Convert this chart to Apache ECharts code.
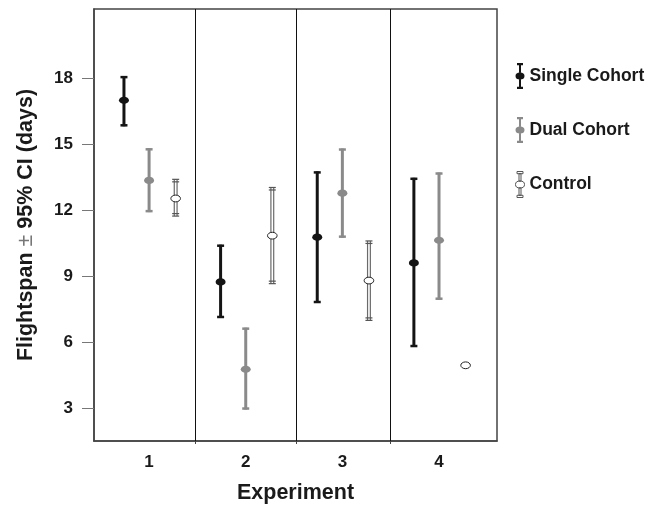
<!DOCTYPE html>
<html>
<head>
<meta charset="utf-8">
<script src="https://cdn.jsdelivr.net/npm/echarts@6/dist/echarts.min.js"></script>
<style>
  html, body { margin: 0; padding: 0; background: #fff; }
  #chart { width: 661px; height: 509px; }
</style>
</head>
<body>
<div id="chart"></div>
<script>
// experiments on the x axis
var experiments = [1, 2, 3, 4];
var yTicks = [3, 6, 9, 12, 15, 18];

// flightspan (days), mean with 95% CI
var singleMean = [16.98, 8.73, 10.76, 9.59];
var singleLow = [15.80, 7.09, 7.77, 5.77];
var singleHigh = [18.08, 10.42, 13.75, 13.46];

var dualMean = [13.34, 4.76, 12.76, 10.62];
var dualLow = [11.90, 2.93, 10.74, 7.92];
var dualHigh = [14.80, 6.65, 14.79, 13.70];

var controlMean = [12.52, 10.83, 8.79, 4.94];
var controlLow = [11.72, 8.65, 6.98, null];
var controlHigh = [13.39, 13.02, 10.59, null];

// where the groups sit around each experiment, and the separators
var offsets = { single: -0.26, dual: 0, control: 0.275 };
var dividerX = [1.48, 2.52, 3.5];

var FONT = '"Liberation Sans", Arial, Helvetica, sans-serif';

function build(mean, low, high, off) {
  return experiments.map(function (e, i) {
    return [e + off, mean[i], low[i] == null ? '-' : low[i], high[i] == null ? '-' : high[i]];
  });
}

function renderer(kind) {
  return function (params, api) {
    var x = api.value(0), m = api.value(1), lo = api.value(2), hi = api.value(3);
    var pm = api.coord([x, m]);
    var kids = [];
    var hasBar = !isNaN(lo) && !isNaN(hi);
    if (hasBar) {
      var pl = api.coord([x, lo]);
      var ph = api.coord([x, hi]);
      var cx = pm[0];
      if (kind === 'control') {
        kids.push({ type: 'line', shape: { x1: cx, y1: ph[1], x2: cx, y2: pl[1] },
          style: { stroke: '#6a6a6a', lineWidth: 4 } });
        kids.push({ type: 'line', shape: { x1: cx, y1: ph[1], x2: cx, y2: pl[1] },
          style: { stroke: '#fff', lineWidth: 1.6 } });
        [ph[1], ph[1] + 2.5, pl[1], pl[1] - 2.5].forEach(function (yy) {
          kids.push({ type: 'line', shape: { x1: cx - 3.5, y1: yy, x2: cx + 3.5, y2: yy },
            style: { stroke: '#555', lineWidth: 1.2 } });
        });
      } else {
        var col = kind === 'single' ? '#141414' : '#8a8a8a';
        kids.push({ type: 'line', shape: { x1: cx, y1: ph[1], x2: cx, y2: pl[1] },
          style: { stroke: col, lineWidth: 3 } });
        [ph[1] + 1, pl[1] - 1].forEach(function (yy) {
          kids.push({ type: 'line', shape: { x1: cx - 3.5, y1: yy, x2: cx + 3.5, y2: yy },
            style: { stroke: col, lineWidth: 2.5 } });
        });
      }
    }
    if (kind === 'control') {
      kids.push({ type: 'ellipse', shape: { cx: pm[0], cy: pm[1], rx: 4.8, ry: 3.4 },
        style: { fill: '#fff', stroke: '#222', lineWidth: 1 } });
    } else {
      kids.push({ type: 'ellipse', shape: { cx: pm[0], cy: pm[1], rx: 5, ry: 3.6 },
        style: { fill: kind === 'single' ? '#141414' : '#8a8a8a' } });
    }
    return { type: 'group', children: kids };
  };
}

// I-beam with a dot; bar split round the dot so nothing overlaps
var legendIcon = 'path://M1.5,0H7.5V2.2H1.5Z M3.5,2.2H5.5V9.6H3.5Z M3.5,16.4H5.5V23.8H3.5Z M1.5,23.8H7.5V26H1.5Z M0,13A4.5,3.5,0,1,1,9,13A4.5,3.5,0,1,1,0,13Z';

var chart = echarts.init(document.getElementById('chart'));
var option = {
  animation: false,
  backgroundColor: '#fff',
  textStyle: { fontFamily: FONT },
  grid: {
    left: 94, right: 164, top: 9, bottom: 66,
    show: true, borderColor: '#444', borderWidth: 1.5
  },
  legend: {
    orient: 'vertical',
    left: 510, top: 58,
    itemWidth: 9, itemHeight: 26, itemGap: 28,
    selectedMode: false,
    textStyle: { fontFamily: FONT, fontSize: 17.5, fontWeight: 'bold', color: '#1a1a1a', padding: [0, 0, 0, 0] },
    data: [
      { name: 'Single Cohort', icon: legendIcon, itemStyle: { color: '#141414', borderWidth: 0 } },
      { name: 'Dual Cohort', icon: legendIcon, itemStyle: { color: '#8a8a8a', borderWidth: 0 } },
      { name: 'Control', icon: legendIcon, itemStyle: { color: '#fff', borderColor: '#555', borderWidth: 1 } }
    ]
  },
  xAxis: {
    type: 'value', min: 0.43, max: 4.6,
    name: 'Experiment', nameLocation: 'middle', nameGap: 41,
    nameTextStyle: { fontFamily: FONT, fontSize: 21.5, fontWeight: 'bold', color: '#1a1a1a' },
    axisLine: { show: true, lineStyle: { color: '#444', width: 1.5 } },
    axisTick: { show: true, length: 3, customValues: dividerX, lineStyle: { color: '#444' } },
    axisLabel: { customValues: experiments, margin: 13, fontFamily: FONT, fontSize: 17, fontWeight: 'bold', color: '#1a1a1a' },
    splitLine: { show: false }
  },
  yAxis: {
    type: 'value', min: 1.5, max: 21.13,
    name: '{b|Flightspan }{pm|±}{b| 95% CI (days)}', nameLocation: 'middle', nameGap: 57,
    nameTextStyle: {
      rich: {
        b: { fontFamily: FONT, fontSize: 21.5, fontWeight: 'bold', color: '#1a1a1a' },
        pm: { fontFamily: FONT, fontSize: 21.5, fontWeight: 'normal', color: '#777' }
      }
    },
    axisLine: { show: true, lineStyle: { color: '#444', width: 1.5 } },
    axisTick: { show: true, length: 12, customValues: yTicks, lineStyle: { color: '#777' } },
    axisLabel: { customValues: yTicks, margin: 21, fontFamily: FONT, fontSize: 17, fontWeight: 'bold', color: '#1a1a1a' },
    splitLine: { show: false }
  },
  series: [
    {
      name: 'Single Cohort', type: 'custom',
      itemStyle: { color: '#141414' },
      renderItem: renderer('single'),
      encode: { x: 0, y: [1, 2, 3] },
      data: build(singleMean, singleLow, singleHigh, offsets.single),
      markLine: {
        silent: true, symbol: ['none', 'none'],
        label: { show: false },
        lineStyle: { color: '#111', width: 1, type: 'solid' },
        data: dividerX.map(function (v) { return { xAxis: v }; })
      }
    },
    {
      name: 'Dual Cohort', type: 'custom',
      itemStyle: { color: '#8a8a8a' },
      renderItem: renderer('dual'),
      encode: { x: 0, y: [1, 2, 3] },
      data: build(dualMean, dualLow, dualHigh, offsets.dual)
    },
    {
      name: 'Control', type: 'custom',
      itemStyle: { color: '#fff', borderColor: '#555', borderWidth: 1 },
      renderItem: renderer('control'),
      encode: { x: 0, y: [1, 2, 3] },
      data: build(controlMean, controlLow, controlHigh, offsets.control)
    }
  ]
};
chart.setOption(option);
</script>
</body>
</html>
